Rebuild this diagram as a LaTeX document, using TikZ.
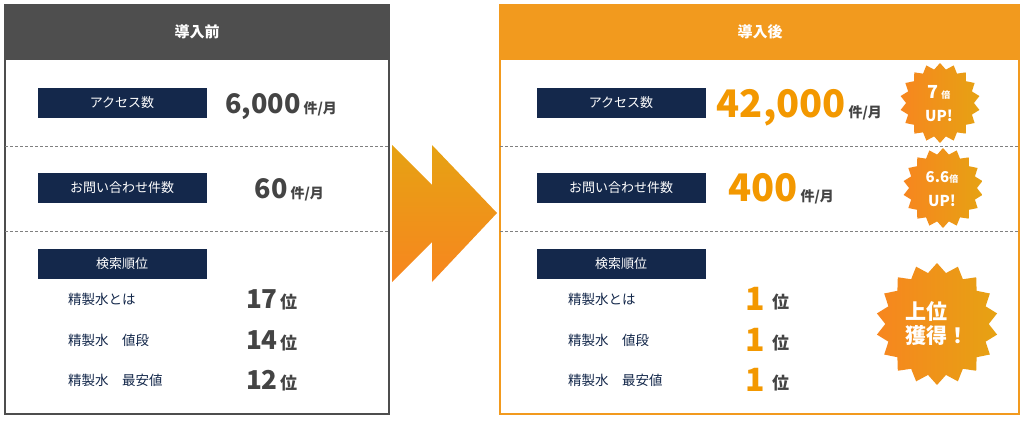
\documentclass[tikz,border=0pt]{standalone}
\usepackage{fontspec}
\setmainfont{Noto Sans CJK JP}
\usetikzlibrary{shapes.geometric}
\definecolor{navy}{HTML}{14284B}
\definecolor{hdgray}{HTML}{4E4E4E}
\definecolor{orng}{HTML}{F29A1E}
\definecolor{numgray}{HTML}{444444}
\definecolor{numorng}{HTML}{F39800}
\definecolor{badgeA}{HTML}{F7861F}
\definecolor{badgeB}{HTML}{E6A213}
\begin{document}
\begin{tikzpicture}[x=1pt,y=-1pt,
  every node/.style={inner sep=0pt},
  tag/.style={fill=navy, text=white, minimum width=169pt, minimum height=30pt, font=\fontsize{13}{13}\selectfont},
  header/.style={text=white, font=\fontsize{15}{15}\selectfont\bfseries},
  numg/.style={text=numgray, font=\fontsize{27}{27}\selectfont\bfseries, anchor=base east},
  numo/.style={text=numorng, font=\fontsize{38}{38}\selectfont\bfseries, anchor=base east},
  unit/.style={text=numgray, font=\fontsize{14}{14}\selectfont\bfseries, anchor=base west},
  item/.style={text=navy, font=\fontsize{13.5}{13.5}\selectfont, anchor=west},
  sep/.style={densely dashed, gray, line width=0.8pt},
  badge/.style={star, star points=18, star point ratio=1.18, left color=badgeA, right color=badgeB, text=white, align=center, font=\bfseries},
]
\useasboundingbox (0,0) rectangle (1024,420);
% before panel
\fill[white] (5,5) rectangle (389,414);
\fill[hdgray] (5,5) rectangle (389,60);
\draw[hdgray, line width=1.2pt] (5,5) rectangle (389,414);
\node[header] (hbefore) at (197,32) {導入前};
\draw[sep] (5,146) -- (389,146);
\draw[sep] (5,231) -- (389,231);
\node[tag] (ba) at (122,103) {アクセス数};
\node[numg] (bav) at (301,113) {6,000};
\node[unit] at (bav.base east) {\,件/月};
\node[tag] (bq) at (122,188) {お問い合わせ件数};
\node[numg] (bqv) at (288,198) {60};
\node[unit] at (bqv.base east) {\,件/月};
\node[tag] (br) at (122,264) {検索順位};
\node[item] at (68,299) {精製水とは};
\node[item] at (68,340) {精製水\quad 値段};
\node[item] at (68,380) {精製水\quad 最安値};
\foreach \y/\v in {308/17,349/14,389/12}
  \node[numg, font=\fontsize{26}{26}\selectfont\bfseries] (r\v) at (278,\y) {\v};
\foreach \y in {308,349,389}
  \node[unit, font=\fontsize{17}{17}\selectfont\bfseries] at (280,\y) {位};
% arrow
\shade[top color=badgeB, bottom color=badgeA]
  (392,145) -- (432,185) -- (432,145) -- (497,213) -- (432,282) -- (432,242) -- (392,282) -- cycle;
% after panel
\fill[white] (500,5) rectangle (1019,414);
\fill[orng] (500,5) rectangle (1019,60);
\draw[orng, line width=1.5pt] (500,5) rectangle (1019,414);
\node[header] (hafter) at (760,32) {導入後};
\draw[sep] (500,146) -- (1019,146);
\draw[sep] (500,231) -- (1019,231);
\node[tag] (aa) at (621,103) {アクセス数};
\node[numo] (aav) at (846,117) {42,000};
\node[unit] at (aav.base east) {\,件/月};
\node[tag] (aq) at (621,188) {お問い合わせ件数};
\node[numo] (aqv) at (798,201) {400};
\node[unit] at (aqv.base east) {\,件/月};
\node[tag] (ar) at (621,264) {検索順位};
\node[item] at (568,299) {精製水とは};
\node[item] at (568,340) {精製水\quad 値段};
\node[item] at (568,380) {精製水\quad 最安値};
\foreach \y in {310,351,391} {
  \node[numo, font=\fontsize{32}{32}\selectfont\bfseries] at (765,\y) {1};
  \node[unit, font=\fontsize{17}{17}\selectfont\bfseries] at (772,\y-2) {位};
}
% badges
\node[badge, minimum size=80pt] (b1) at (940,103) {};
\node[text=white, font=\fontsize{18}{18}\selectfont\bfseries] at (939,92) {7\,{\fontsize{9}{9}\selectfont 倍}};
\node[text=white, font=\fontsize{15}{15}\selectfont\bfseries] at (939,116) {UP!};
\node[badge, minimum size=80pt] (b2) at (943,188) {};
\node[text=white, font=\fontsize{15}{15}\selectfont\bfseries] at (942,177) {6.6{\fontsize{9}{9}\selectfont 倍}};
\node[text=white, font=\fontsize{15}{15}\selectfont\bfseries] at (942,201) {UP!};
\node[badge, minimum size=122pt] (b3) at (937,324) {};
\node[text=white, font=\fontsize{21}{21}\selectfont\bfseries, align=left] at (937,324) {上位\\[3pt]獲得！};
\end{tikzpicture}
\end{document}
